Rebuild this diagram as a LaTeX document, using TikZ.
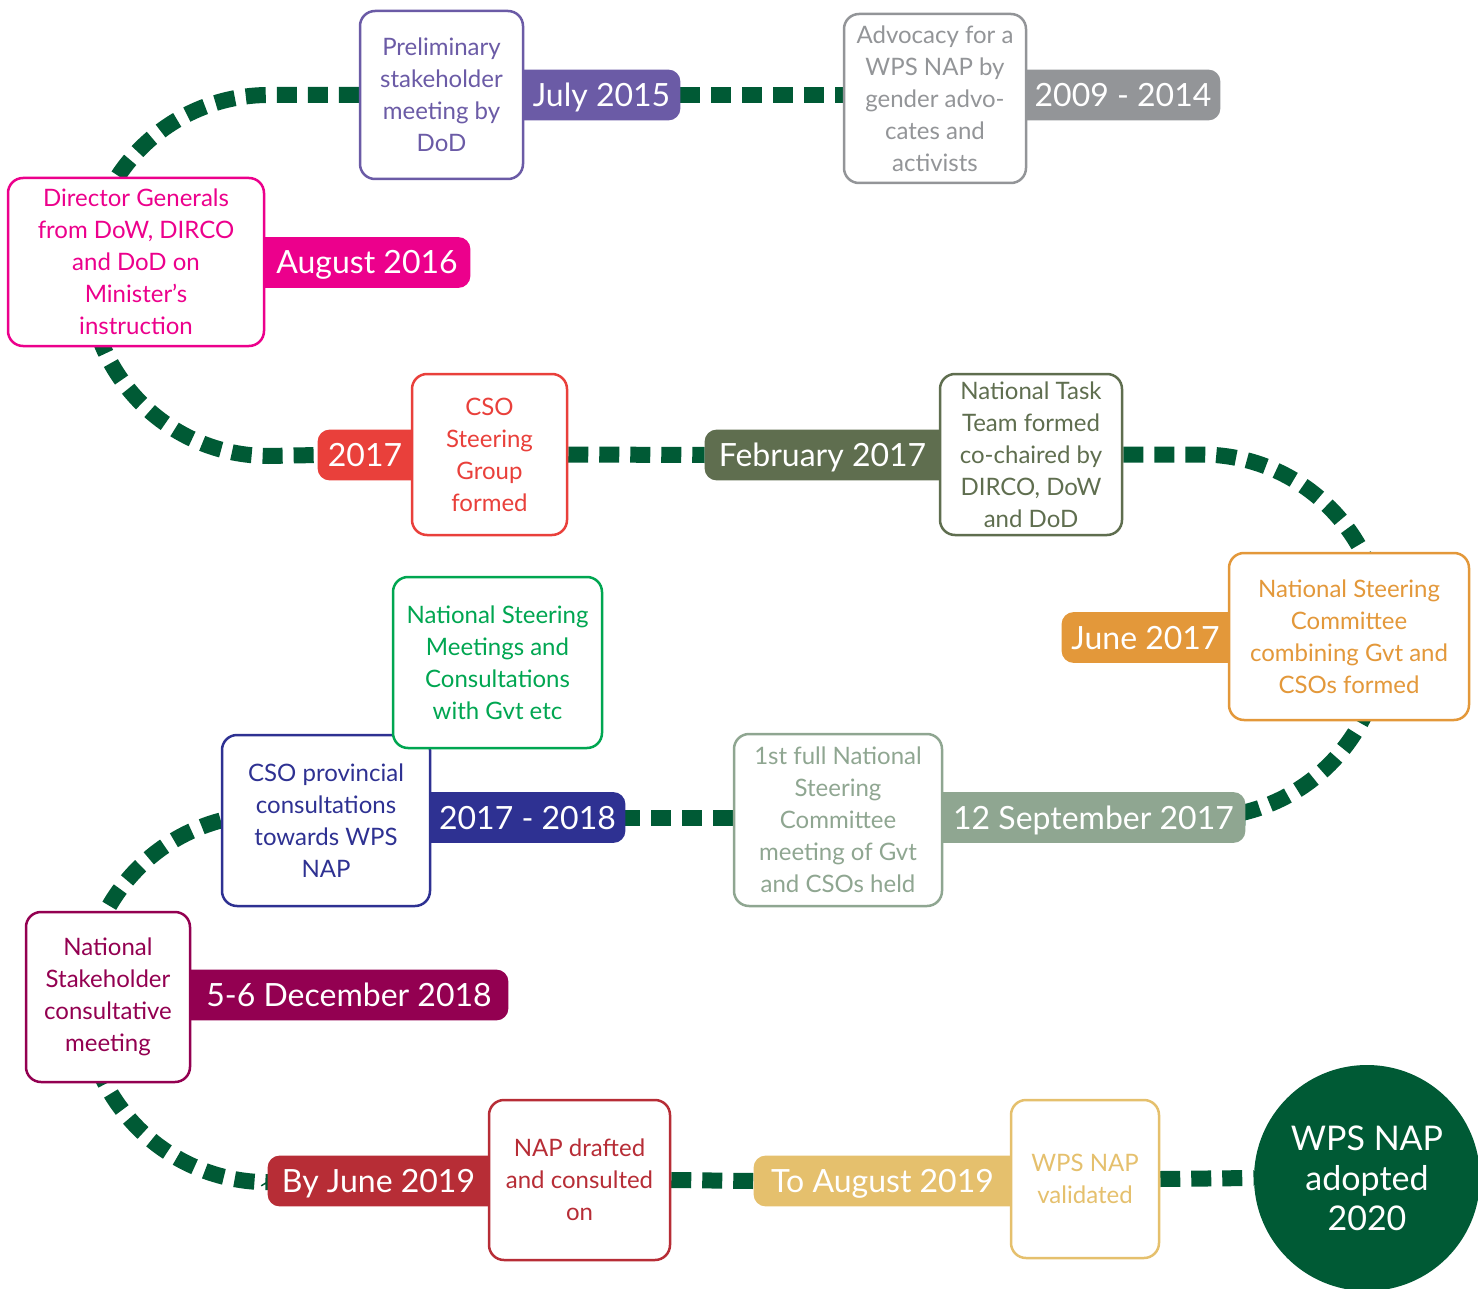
\documentclass[tikz,border=0pt]{standalone}
\usepackage{fontspec}
\setmainfont{Lato}
\usetikzlibrary{calc}
\pgfdeclarelayer{background}
\pgfsetlayers{background,main}
\definecolor{cPurple}{HTML}{6B5BA6}
\definecolor{cGray}{HTML}{939598}
\definecolor{cMagenta}{HTML}{EC008C}
\definecolor{cRed}{HTML}{E9403B}
\definecolor{cOlive}{HTML}{5F6E4F}
\definecolor{cOrange}{HTML}{E3983A}
\definecolor{cGreen}{HTML}{00A651}
\definecolor{cNavy}{HTML}{2E3192}
\definecolor{cSage}{HTML}{8FA691}
\definecolor{cBurg}{HTML}{930051}
\definecolor{cDRed}{HTML}{B72D36}
\definecolor{cYellow}{HTML}{E5C06D}
\definecolor{cDark}{HTML}{005A35}
\newcommand\bxfont{\fontsize{12}{16}\selectfont}
\newcommand\lbfont{\fontsize{16}{19}\selectfont}
\newcommand\crfont{\fontsize{17}{20}\selectfont}
\begin{document}
\begin{tikzpicture}[x=0.5pt,y=-0.5pt,
  box/.style={draw=#1, text=#1, line width=1.25pt, fill=white, rounded corners=7.5pt,
              align=center, inner sep=0pt, font=\bxfont},
  lab/.style={text=white, inner sep=0pt, minimum height=25pt, text height=11.5pt,
              text depth=0pt, font=\lbfont},
  conn/.style={draw=cDark, line width=8pt, dash pattern=on 10pt off 5.5pt},
  labfill/.style={fill=#1, rounded corners=6pt}]
\useasboundingbox (0,0) rectangle (1478,1289);

% event boxes
\node[box=cPurple, minimum width=81.5pt, minimum height=84pt] (prelim) at (441.5,95)
  {Preliminary\\stakeholder\\meeting by\\DoD};
\node[box=cGray, minimum width=91pt, minimum height=84.5pt] (adv) at (935,98.5)
  {Advocacy for a\\WPS NAP by\\gender advo-\\cates and\\activists};
\node[box=cMagenta, minimum width=128pt, minimum height=84pt] (dg) at (136,262)
  {Director Generals\\from DoW, DIRCO\\and DoD on\\Minister’s\\instruction};
\node[box=cRed, minimum width=77.5pt, minimum height=80.5pt] (cso) at (489.5,454.5)
  {CSO\\Steering\\Group\\formed};
\node[box=cOlive, minimum width=91pt, minimum height=80.5pt] (ntt) at (1031,454.5)
  {National Task\\Team formed\\co-chaired by\\DIRCO, DoW\\and DoD};
\node[box=cOrange, minimum width=120pt, minimum height=83.5pt] (nsc) at (1349,636.5)
  {National Steering\\Committee\\combining Gvt and\\CSOs formed};
\node[box=cNavy, minimum width=104pt, minimum height=85.5pt] (prov) at (326,820.5)
  {CSO provincial\\consultations\\towards WPS\\NAP};
\node[box=cGreen, minimum width=104.5pt, minimum height=85.5pt] (nsm) at (497.5,662.5)
  {National Steering\\Meetings and\\Consultations\\with Gvt etc};
\node[box=cSage, minimum width=104pt, minimum height=86pt] (first) at (838,820)
  {1st full National\\Steering\\Committee\\meeting of Gvt\\and CSOs held};
\node[box=cBurg, minimum width=82pt, minimum height=85pt] (stake) at (108,997)
  {National\\Stakeholder\\consultative\\meeting};
\node[box=cDRed, minimum width=90.5pt, minimum height=80pt] (nap) at (579.5,1180)
  {NAP drafted\\and consulted\\on};
\node[box=cYellow, minimum width=74pt, minimum height=79pt] (val) at (1085,1179)
  {WPS NAP\\validated};
\node[circle, fill=cDark, text=white, minimum size=113pt, inner sep=0pt, align=center,
      font=\crfont] (circ) at (1367,1178) {WPS NAP\\adopted\\2020};

% date labels
\node[lab, minimum width=78.5pt] (jul) at (601.5,95) {July 2015};
\node[lab, minimum width=97pt] (y0914) at (1123,95) {2009 - 2014};
\node[lab, minimum width=103pt] (aug) at (367,262.5) {August 2016};
\node[lab, minimum width=47pt] (y2017) at (365,455) {2017};
\node[lab, minimum width=117.5pt] (feb) at (822.5,455) {February 2017};
\node[lab, minimum width=83.5pt] (jun) at (1145.5,637.5) {June 2017};
\node[lab, minimum width=97.5pt] (y1718) at (527.5,817.5) {2017 - 2018};
\node[lab, minimum width=151.5pt] (sep) at (1093.5,817.5) {12 September 2017};
\node[lab, minimum width=159pt] (dec) at (349,995) {5-6 December 2018};
\node[lab, minimum width=110.5pt] (byjun) at (378.5,1181) {By June 2019};
\node[lab, minimum width=128.5pt] (toaug) at (882.5,1181) {To August 2019};

\begin{pgfonlayer}{background}
% connectors
\draw[conn] (jul.east) -- (jul.east -| adv.west);
\draw[conn] (prelim.west) -- ++(-90,0) arc[start angle=270, end angle=90, radius=180.5] -- (y2017.west);
\draw[conn] (cso.east) -- (feb.west);
\draw[conn] (ntt.east) -- ++(78,0) arc[start angle=-90, end angle=90, radius=181.5] -- (sep.east);
\draw[conn] (y1718.east -| first.west) -- (y1718.east);
\draw[conn] (prov.west) arc[start angle=255, end angle=90, radius=184] -- (byjun.west);
\draw[conn] (nap.east) -- (toaug.west);
\draw[conn] (val.east) -- (circ.west);
% label backgrounds (attached side tucked under the box)
\fill[labfill=cPurple] ($(jul.north west)+(-20,0)$) rectangle (jul.south east);
\fill[labfill=cGray] ($(y0914.north west)+(-20,0)$) rectangle (y0914.south east);
\fill[labfill=cMagenta] ($(aug.north west)+(-20,0)$) rectangle (aug.south east);
\fill[labfill=cRed] (y2017.north west) rectangle ($(y2017.south east)+(20,0)$);
\fill[labfill=cOlive] (feb.north west) rectangle ($(feb.south east)+(20,0)$);
\fill[labfill=cOrange] (jun.north west) rectangle ($(jun.south east)+(20,0)$);
\fill[labfill=cNavy] ($(y1718.north west)+(-20,0)$) rectangle (y1718.south east);
\fill[labfill=cSage] ($(sep.north west)+(-20,0)$) rectangle (sep.south east);
\fill[labfill=cBurg] ($(dec.north west)+(-20,0)$) rectangle (dec.south east);
\fill[labfill=cDRed] (byjun.north west) rectangle ($(byjun.south east)+(20,0)$);
\fill[labfill=cYellow] (toaug.north west) rectangle ($(toaug.south east)+(20,0)$);
\end{pgfonlayer}
\end{tikzpicture}
\end{document}
